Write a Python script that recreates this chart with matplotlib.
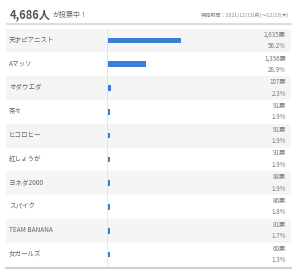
import matplotlib
matplotlib.use("Agg")
import matplotlib.pyplot as plt
from matplotlib.patches import Rectangle

plt.rcParams["font.family"] = ["Noto Sans CJK JP", "DejaVu Sans"]

TOTAL = "4,686人"
PERIOD = "実施期間：2021/12/13(月)～12/23(木)"
names = ["天才ピアニスト", "Aマッソ", "オダウエダ", "茶々", "ヒコロヒー",
         "紅しょうが", "ヨネダ2000", "スパイク", "TEAM BANANA", "女ガールズ"]
votes = [2635, 1356, 107, 91, 91, 91, 88, 86, 81, 60]
pcts = [56.2, 28.9, 2.3, 1.9, 1.9, 1.9, 1.9, 1.8, 1.7, 1.3]

W, H = 300, 278
fig = plt.figure(figsize=(W / 100, H / 100), dpi=100)
ax = fig.add_axes([0, 0, 1, 1])
ax.set_xlim(0, W)
ax.set_ylim(H, 0)
ax.axis("off")

# header
ax.text(10, 15, TOTAL, fontsize=8, weight="bold", color="#555555", va="center")
ax.text(53, 15.5, "が投票中！", fontsize=5, color="#666666", va="center")
ax.text(289, 15.5, PERIOD, fontsize=3.7, color="#888888", va="center", ha="right")
ax.plot([6, 292], [23.5, 23.5], color="#dddddd", lw=1.5, solid_capstyle="butt")

top, rh = 28.5, 23.8
centers = [top + rh * (i + 0.5) for i in range(len(names))]
for i, (n, v, p) in enumerate(zip(names, votes, pcts)):
    c = centers[i]
    if i % 2 == 0:
        ax.add_patch(Rectangle((6, c - rh / 2), 285, rh, color="#f5f5f5", lw=0, zorder=0))
    ax.text(9, c - 0.5, n, fontsize=4.7, color="#666666", va="center")
    ax.text(286, c - 6, f"{v:,}票", fontsize=4.5, color="#777777", va="center", ha="right")
    ax.text(286, c + 5.5, f"{p}%", fontsize=4.5, color="#777777", va="center", ha="right")

bottom = top + rh * len(names)
ax.plot([107, 107], [top, bottom], color="#e2e2e2", lw=0.6)
ax.plot([5, 292], [bottom + 1, bottom + 1], color="#d0d0d0", lw=1.5, solid_capstyle="butt")

# bars
bx = fig.add_axes([108 / W, 0, 192 / W, 1])
bx.set_ylim(H, 0)
bx.set_xlim(0, 192 / 1.3)
bx.axis("off")
bx.patch.set_alpha(0)
bx.barh(centers, pcts, height=5.5, color="#3a7fd5", left=0)

fig.savefig("out.png", dpi=100)
